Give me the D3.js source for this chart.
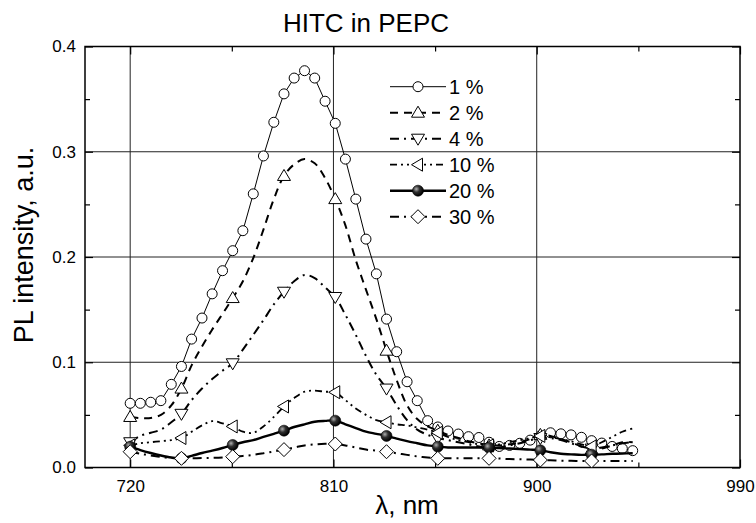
<!DOCTYPE html>
<html>
<head>
<meta charset="utf-8">
<script src="https://cdn.jsdelivr.net/npm/d3@7"></script>
<style>
body { margin: 0; background: #fff; }
text { font-family: Arial, "Liberation Sans", sans-serif; fill: #000; }
</style>
</head>
<body>
<div id="chart"></div>
<script>
/* data */
var wavelengths = [720.0, 724.5, 729.1, 733.6, 738.2, 742.7, 747.2, 751.8, 756.3, 760.9,
                   765.4, 769.9, 774.5, 779.0, 783.6, 788.1, 792.6, 797.2, 801.7, 806.3,
                   810.8, 815.3, 819.9, 824.4, 829.0, 833.5, 838.0, 842.6, 847.1, 851.7,
                   856.2, 860.7, 865.3, 869.8, 874.4, 878.9, 883.4, 888.0, 892.5, 897.1,
                   901.6, 906.1, 910.7, 915.2, 919.8, 924.3, 928.8, 933.4, 937.9, 942.5];

var pct1 = [0.061, 0.061, 0.062, 0.0635, 0.079, 0.096, 0.122, 0.142, 0.165, 0.187,
            0.206, 0.225, 0.260, 0.296, 0.328, 0.355, 0.370, 0.377, 0.370, 0.348,
            0.327, 0.293, 0.255, 0.217, 0.184, 0.141, 0.110, 0.0815, 0.0635, 0.0445,
            0.0385, 0.0347, 0.0318, 0.0293, 0.0285, 0.024, 0.020, 0.021, 0.023, 0.026,
            0.030, 0.033, 0.032, 0.031, 0.0287, 0.0255, 0.0232, 0.020, 0.018, 0.016];

var pct2 = [0.048, 0.047, 0.047, 0.050, 0.059, 0.075, 0.097, 0.115, 0.131, 0.146,
            0.161, 0.177, 0.199, 0.226, 0.255, 0.277, 0.288, 0.293, 0.289, 0.275,
            0.255, 0.230, 0.197, 0.169, 0.141, 0.111, 0.083, 0.059, 0.046, 0.039,
            0.035, 0.031, 0.028, 0.025, 0.023, 0.021, 0.021, 0.022, 0.024, 0.027,
            0.031, 0.030, 0.027, 0.024, 0.020, 0.017, 0.018, 0.021, 0.024, 0.024];

var pct4 = [0.024, 0.030, 0.033, 0.036, 0.043, 0.051, 0.064, 0.075, 0.084, 0.092,
            0.099, 0.112, 0.126, 0.140, 0.155, 0.167, 0.177, 0.183, 0.180, 0.171,
            0.162, 0.145, 0.126, 0.106, 0.088, 0.075, 0.059, 0.045, 0.036, 0.031,
            0.028, 0.026, 0.024, 0.022, 0.020, 0.018, 0.019, 0.021, 0.023, 0.026,
            0.028, 0.028, 0.026, 0.023, 0.020, 0.018, 0.019, 0.021, 0.023, 0.024];

var pct10 = [0.021, 0.023, 0.024, 0.025, 0.026, 0.028, 0.034, 0.040, 0.044, 0.042,
             0.039, 0.034, 0.033, 0.039, 0.048, 0.058, 0.066, 0.072, 0.073, 0.072,
             0.0715, 0.064, 0.056, 0.050, 0.045, 0.043, 0.041, 0.040, 0.038, 0.036,
             0.033, 0.029, 0.026, 0.024, 0.022, 0.021, 0.022, 0.024, 0.026, 0.028,
             0.030, 0.029, 0.027, 0.025, 0.022, 0.020, 0.024, 0.029, 0.034, 0.037];

var pct20 = [0.0198, 0.0166, 0.0138, 0.0114, 0.0095, 0.0087, 0.011, 0.0138, 0.016, 0.0185,
             0.0214, 0.024, 0.026, 0.029, 0.032, 0.035, 0.0385, 0.041, 0.0435, 0.0443,
             0.0445, 0.041, 0.0375, 0.034, 0.032, 0.030, 0.0275, 0.025, 0.023, 0.021,
             0.0198, 0.019, 0.019, 0.019, 0.019, 0.0188, 0.0185, 0.018, 0.0175, 0.017,
             0.0163, 0.0145, 0.013, 0.0125, 0.012, 0.0122, 0.0125, 0.013, 0.0133, 0.0135];

var pct30 = [0.015, 0.013, 0.0115, 0.010, 0.009, 0.0087, 0.0088, 0.009, 0.0092, 0.0096,
             0.0103, 0.011, 0.012, 0.0135, 0.0152, 0.017, 0.019, 0.021, 0.022, 0.0225,
             0.0223, 0.021, 0.019, 0.017, 0.016, 0.015, 0.0135, 0.012, 0.0105, 0.0095,
             0.0087, 0.0087, 0.0087, 0.0087, 0.0087, 0.0087, 0.0085, 0.008, 0.0078, 0.0075,
             0.0071, 0.0068, 0.0065, 0.0063, 0.0062, 0.0062, 0.0062, 0.0062, 0.0062, 0.0062];

var seriesNames = ["1 %", "2 %", "4 %", "10 %", "20 %", "30 %"];
var seriesValues = [pct1, pct2, pct4, pct10, pct20, pct30];

var xTicks = [720, 810, 900, 990],
    xMinorTicks = [765, 855, 945],
    yTicks = [0.0, 0.1, 0.2, 0.3, 0.4],
    yMinorTicks = [0.05, 0.15, 0.25, 0.35];

var title = "HITC in PEPC",
    xLabel = "λ, nm",
    yLabel = "PL intensity, a.u.";

/* line and symbol style of each series */
var styles = [
    {dash: null,              width: 1,   curve: d3.curveLinear,     symbol: "circle",   every: 1},
    {dash: "8,6",             width: 2,   curve: d3.curveCatmullRom, symbol: "up",       every: 5},
    {dash: "9,5,2,5",         width: 2,   curve: d3.curveCatmullRom, symbol: "down",     every: 5},
    {dash: "7,4,2,4,2,4",     width: 1.8, curve: d3.curveCatmullRom, symbol: "left",     every: 5},
    {dash: null,              width: 2.4, curve: d3.curveCatmullRom, symbol: "sphere",   every: 5},
    {dash: "9,5,2,5",         width: 2,   curve: d3.curveCatmullRom, symbol: "diamond",  every: 5}
];

var width = 756,
    height = 523,
    margin = {top: 46.5, right: 16, bottom: 55.5, left: 85};

var x = d3.scaleLinear().domain([700, 990]).range([margin.left, width - margin.right]),
    y = d3.scaleLinear().domain([0, 0.4]).range([height - margin.bottom, margin.top]);

var svg = d3.select("#chart")
            .append("svg")
            .attr("width", width)
            .attr("height", height);

/* gradient for the shaded 20 % balls */
var grad = svg.append("defs").append("radialGradient")
                .attr("id", "ball")
                .attr("cx", "35%").attr("cy", "35%").attr("r", "65%");
grad.append("stop").attr("offset", "0%").attr("stop-color", "#b0b0b0");
grad.append("stop").attr("offset", "45%").attr("stop-color", "#303030");
grad.append("stop").attr("offset", "100%").attr("stop-color", "#000");

/* grid lines */
svg.append("g")
    .selectAll("line")
    .data(xTicks.filter(function(d) { return d < 990; }))
    .enter().append("line")
        .attr("x1", function(d) { return x(d); })
        .attr("x2", function(d) { return x(d); })
        .attr("y1", y(0))
        .attr("y2", y(0.4))
        .attr("stroke", "#222")
        .attr("stroke-width", 1);

svg.append("g")
    .selectAll("line")
    .data(yTicks.filter(function(d) { return d > 0 && d < 0.4; }))
    .enter().append("line")
        .attr("x1", x(700))
        .attr("x2", x(990))
        .attr("y1", function(d) { return y(d); })
        .attr("y2", function(d) { return y(d); })
        .attr("stroke", "#222")
        .attr("stroke-width", 1);

/* axes, ticks pointing inward */
function addAxis(axis, tx, ty) {
    var g = svg.append("g")
                .attr("transform", "translate(" + tx + "," + ty + ")")
                .call(axis);
    g.select(".domain").remove();
    g.selectAll("line").attr("stroke", "#000").attr("stroke-width", 1.2);
    g.selectAll("text").attr("font-size", 17).attr("font-family", "Arial, 'Liberation Sans', sans-serif");
    return g;
}

addAxis(d3.axisBottom(x).tickValues(xTicks).tickSize(-8).tickPadding(12).tickFormat(d3.format("d")), 0, y(0));
addAxis(d3.axisBottom(x).tickValues(xMinorTicks).tickSize(-5).tickFormat(""), 0, y(0));
addAxis(d3.axisTop(x).tickValues(xTicks).tickSize(-8).tickFormat(""), 0, y(0.4));
addAxis(d3.axisTop(x).tickValues(xMinorTicks).tickSize(-5).tickFormat(""), 0, y(0.4));
addAxis(d3.axisLeft(y).tickValues(yTicks).tickSize(-8).tickPadding(9).tickFormat(d3.format(".1f")), x(700), 0);
addAxis(d3.axisLeft(y).tickValues(yMinorTicks).tickSize(-5).tickFormat(""), x(700), 0);
addAxis(d3.axisRight(y).tickValues(yTicks).tickSize(-8).tickFormat(""), x(990), 0);
addAxis(d3.axisRight(y).tickValues(yMinorTicks).tickSize(-5).tickFormat(""), x(990), 0);

/* frame */
svg.append("rect")
    .attr("x", x(700))
    .attr("y", y(0.4))
    .attr("width", x(990) - x(700))
    .attr("height", y(0) - y(0.4))
    .attr("fill", "none")
    .attr("stroke", "#000")
    .attr("stroke-width", 1.5);

/* symbol shapes */
function symbolPath(type) {
    if (type === "up") return "M0,-6.5L6.5,4.5L-6.5,4.5Z";
    if (type === "down") return "M0,6.5L6.5,-4.5L-6.5,-4.5Z";
    if (type === "left") return "M-6.5,0L4.5,-6.5L4.5,6.5Z";
    if (type === "diamond") return "M0,-7L7,0L0,7L-7,0Z";
    return null;
}

function drawSymbol(g, type) {
    if (type === "circle") {
        g.append("circle").attr("r", 5).attr("fill", "#fff").attr("stroke", "#000").attr("stroke-width", 1);
    } else if (type === "sphere") {
        g.append("circle").attr("r", 5.5).attr("fill", "url(#ball)").attr("stroke", "#000").attr("stroke-width", 0.6);
    } else {
        g.append("path").attr("d", symbolPath(type)).attr("fill", "#fff").attr("stroke", "#000").attr("stroke-width", 1);
    }
}

/* draw series: line then symbols */
seriesValues.forEach(function(vals, i) {
    var st = styles[i];
    var pts = vals.map(function(v, k) { return [wavelengths[k], v]; });

    var line = d3.line()
                .x(function(d) { return x(d[0]); })
                .y(function(d) { return y(d[1]); })
                .curve(st.curve);

    svg.append("path")
        .datum(pts)
        .attr("d", line)
        .attr("fill", "none")
        .attr("stroke", "#000")
        .attr("stroke-width", st.width)
        .attr("stroke-dasharray", st.dash);

    svg.append("g")
        .selectAll("g")
        .data(pts.filter(function(d, k) { return k % st.every === 0; }))
        .enter().append("g")
            .attr("transform", function(d) { return "translate(" + x(d[0]) + "," + y(d[1]) + ")"; })
            .each(function() { drawSymbol(d3.select(this), st.symbol); });
});

/* legend */
var legend = svg.append("g")
                .selectAll("g")
                .data(seriesNames)
                .enter().append("g")
                    .attr("transform", function(d, i) { return "translate(0," + (86.7 + i * 26) + ")"; });

legend.append("line")
        .attr("x1", 390)
        .attr("x2", 446)
        .attr("stroke", "#000")
        .attr("stroke-width", function(d, i) { return styles[i].width; })
        .attr("stroke-dasharray", function(d, i) { return styles[i].dash; });

legend.append("g")
        .attr("transform", "translate(418,0)")
        .each(function(d, i) { drawSymbol(d3.select(this), styles[i].symbol); });

legend.append("text")
        .attr("x", 449)
        .attr("dy", "0.36em")
        .attr("font-size", 20)
        .text(function(d) { return d; });

/* title and axis labels */
svg.append("text")
    .attr("x", 366)
    .attr("y", 32)
    .attr("text-anchor", "middle")
    .attr("font-size", 26)
    .text(title);

svg.append("text")
    .attr("x", 407)
    .attr("y", 514)
    .attr("text-anchor", "middle")
    .attr("font-size", 26)
    .text(xLabel);

svg.append("text")
    .attr("transform", "translate(33,245)rotate(-90)")
    .attr("text-anchor", "middle")
    .attr("font-size", 27)
    .text(yLabel);
</script>
</body>
</html>
